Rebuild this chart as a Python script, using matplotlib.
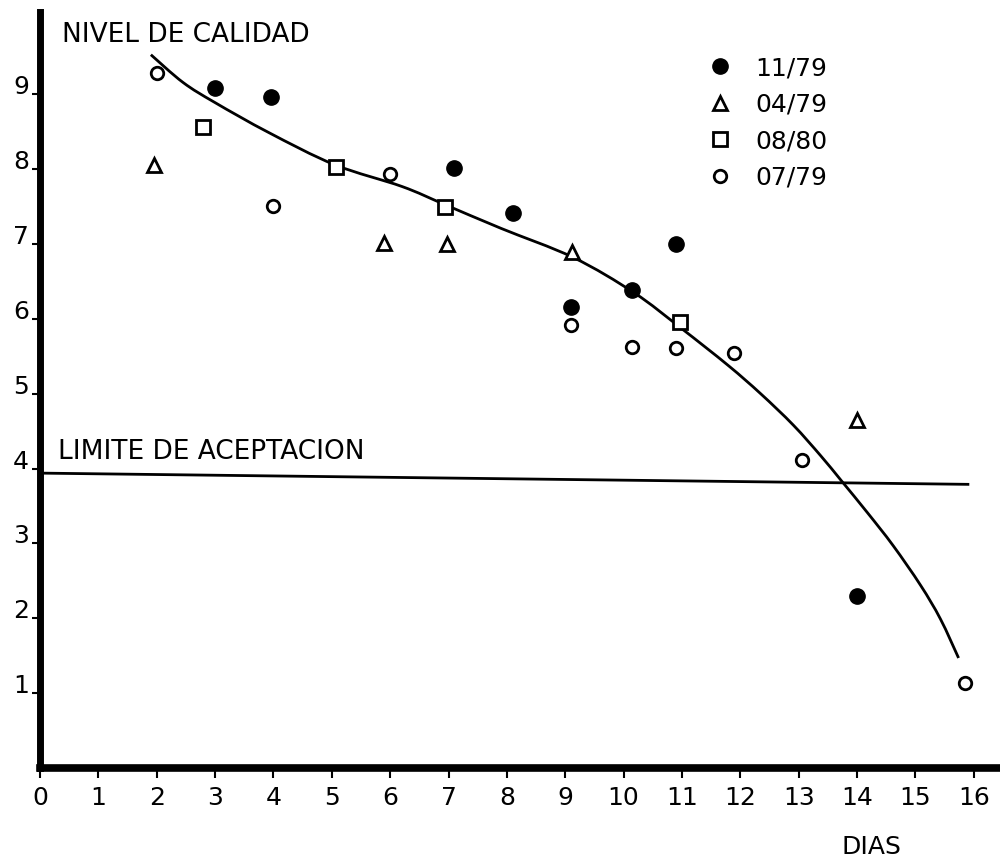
import matplotlib
matplotlib.use("Agg")
import matplotlib.pyplot as plt
from matplotlib.path import Path
from matplotlib.patches import PathPatch

plt.rcParams['font.family'] = ['DejaVu Sans']

# datos (dias, nivel de calidad)
dias_1179 = [3.0, 3.95, 7.1, 8.1, 9.1, 10.15, 10.9, 14.0]
nivel_1179 = [9.08, 8.97, 8.02, 7.42, 6.16, 6.39, 7.0, 2.3]

dias_0479 = [1.95, 5.9, 6.97, 9.12, 14.0]
nivel_0479 = [8.05, 7.02, 7.0, 6.89, 4.65]

dias_0880 = [2.8, 5.07, 6.94, 10.97]
nivel_0880 = [8.56, 8.03, 7.49, 5.96]

dias_0779 = [2.0, 4.0, 6.0, 9.1, 10.15, 10.9, 11.9, 13.05, 15.85]
nivel_0779 = [9.28, 7.51, 7.94, 5.92, 5.63, 5.61, 5.55, 4.12, 1.14]

# curva trazada a mano
curva_x = [1.9, 2.45, 3.0, 3.92, 5.05, 6.2, 6.93, 7.9, 9.14, 10.18, 10.98,
           11.79, 12.35, 12.91, 13.38, 13.73, 14.18, 14.62, 15.09, 15.43, 15.74]
curva_y = [9.53, 9.16, 8.89, 8.49, 8.06, 7.77, 7.53, 7.21, 6.82, 6.35, 5.88,
           5.38, 5.0, 4.58, 4.17, 3.84, 3.41, 2.97, 2.44, 1.99, 1.47]

# limite de aceptacion
limite_x = [0.0, 15.9]
limite_y = [3.94, 3.79]

xticks = list(range(0, 17))
yticks = list(range(1, 10))


def trazo_suave(xs, ys):
    # bezier tipo catmull-rom que pasa por los puntos leidos
    pts = list(zip(xs, ys))
    verts = [pts[0]]
    codes = [Path.MOVETO]
    for i in range(len(pts) - 1):
        p0 = pts[i - 1] if i > 0 else pts[i]
        p1 = pts[i]
        p2 = pts[i + 1]
        p3 = pts[i + 2] if i + 2 < len(pts) else pts[i + 1]
        c1 = (p1[0] + (p2[0] - p0[0]) / 6, p1[1] + (p2[1] - p0[1]) / 6)
        c2 = (p2[0] - (p3[0] - p1[0]) / 6, p2[1] - (p3[1] - p1[1]) / 6)
        verts += [c1, c2, p2]
        codes += [Path.CURVE4] * 3
    return Path(verts, codes)


fig = plt.figure(figsize=(10, 8.61), dpi=100)
ax = fig.add_axes([0.040, 0.108, 0.96, 0.878])

ax.add_patch(PathPatch(trazo_suave(curva_x, curva_y), fc='none', ec='black', lw=2))
ax.plot(limite_x, limite_y, color='black', lw=2)

ax.plot(dias_1179, nivel_1179, 'o', ms=11, color='black', ls='none', label='11/79')
ax.plot(dias_0479, nivel_0479, '^', ms=10, mfc='white', mec='black', mew=2, ls='none', label='04/79')
ax.plot(dias_0880, nivel_0880, 's', ms=10, mfc='white', mec='black', mew=2, ls='none', label='08/80')
ax.plot(dias_0779, nivel_0779, 'o', ms=9, mfc='white', mec='black', mew=2, ls='none', label='07/79')

ax.set_xlim(0, 16.45)
ax.set_ylim(0, 10.1)

for s in ['top', 'right']:
    ax.spines[s].set_visible(False)
ax.spines['left'].set_linewidth(5)
ax.spines['bottom'].set_linewidth(5.5)

ax.set_xticks(xticks)
ax.set_yticks(yticks)
ax.tick_params(axis='x', direction='out', length=7, width=1.5, pad=6, labelsize=18)
ax.tick_params(axis='y', direction='out', length=6, width=1.5, pad=2, labelsize=18)
for lab in ax.get_yticklabels():
    lab.set_va('baseline')

ax.text(0.38, 9.8, 'NIVEL DE CALIDAD', fontsize=19, va='center', ha='left')
ax.text(0.3, 4.05, 'LIMITE DE ACEPTACION', fontsize=19, va='bottom', ha='left')
ax.text(14.25, -1.06, 'DIAS', fontsize=18, va='center', ha='center', clip_on=False)

ax.legend(loc='upper left', bbox_to_anchor=(0.685, 0.955), frameon=False,
          fontsize=18, handlelength=1.0, handletextpad=0.9, labelspacing=0.5,
          borderaxespad=0)

fig.savefig('out.png', dpi=100)
